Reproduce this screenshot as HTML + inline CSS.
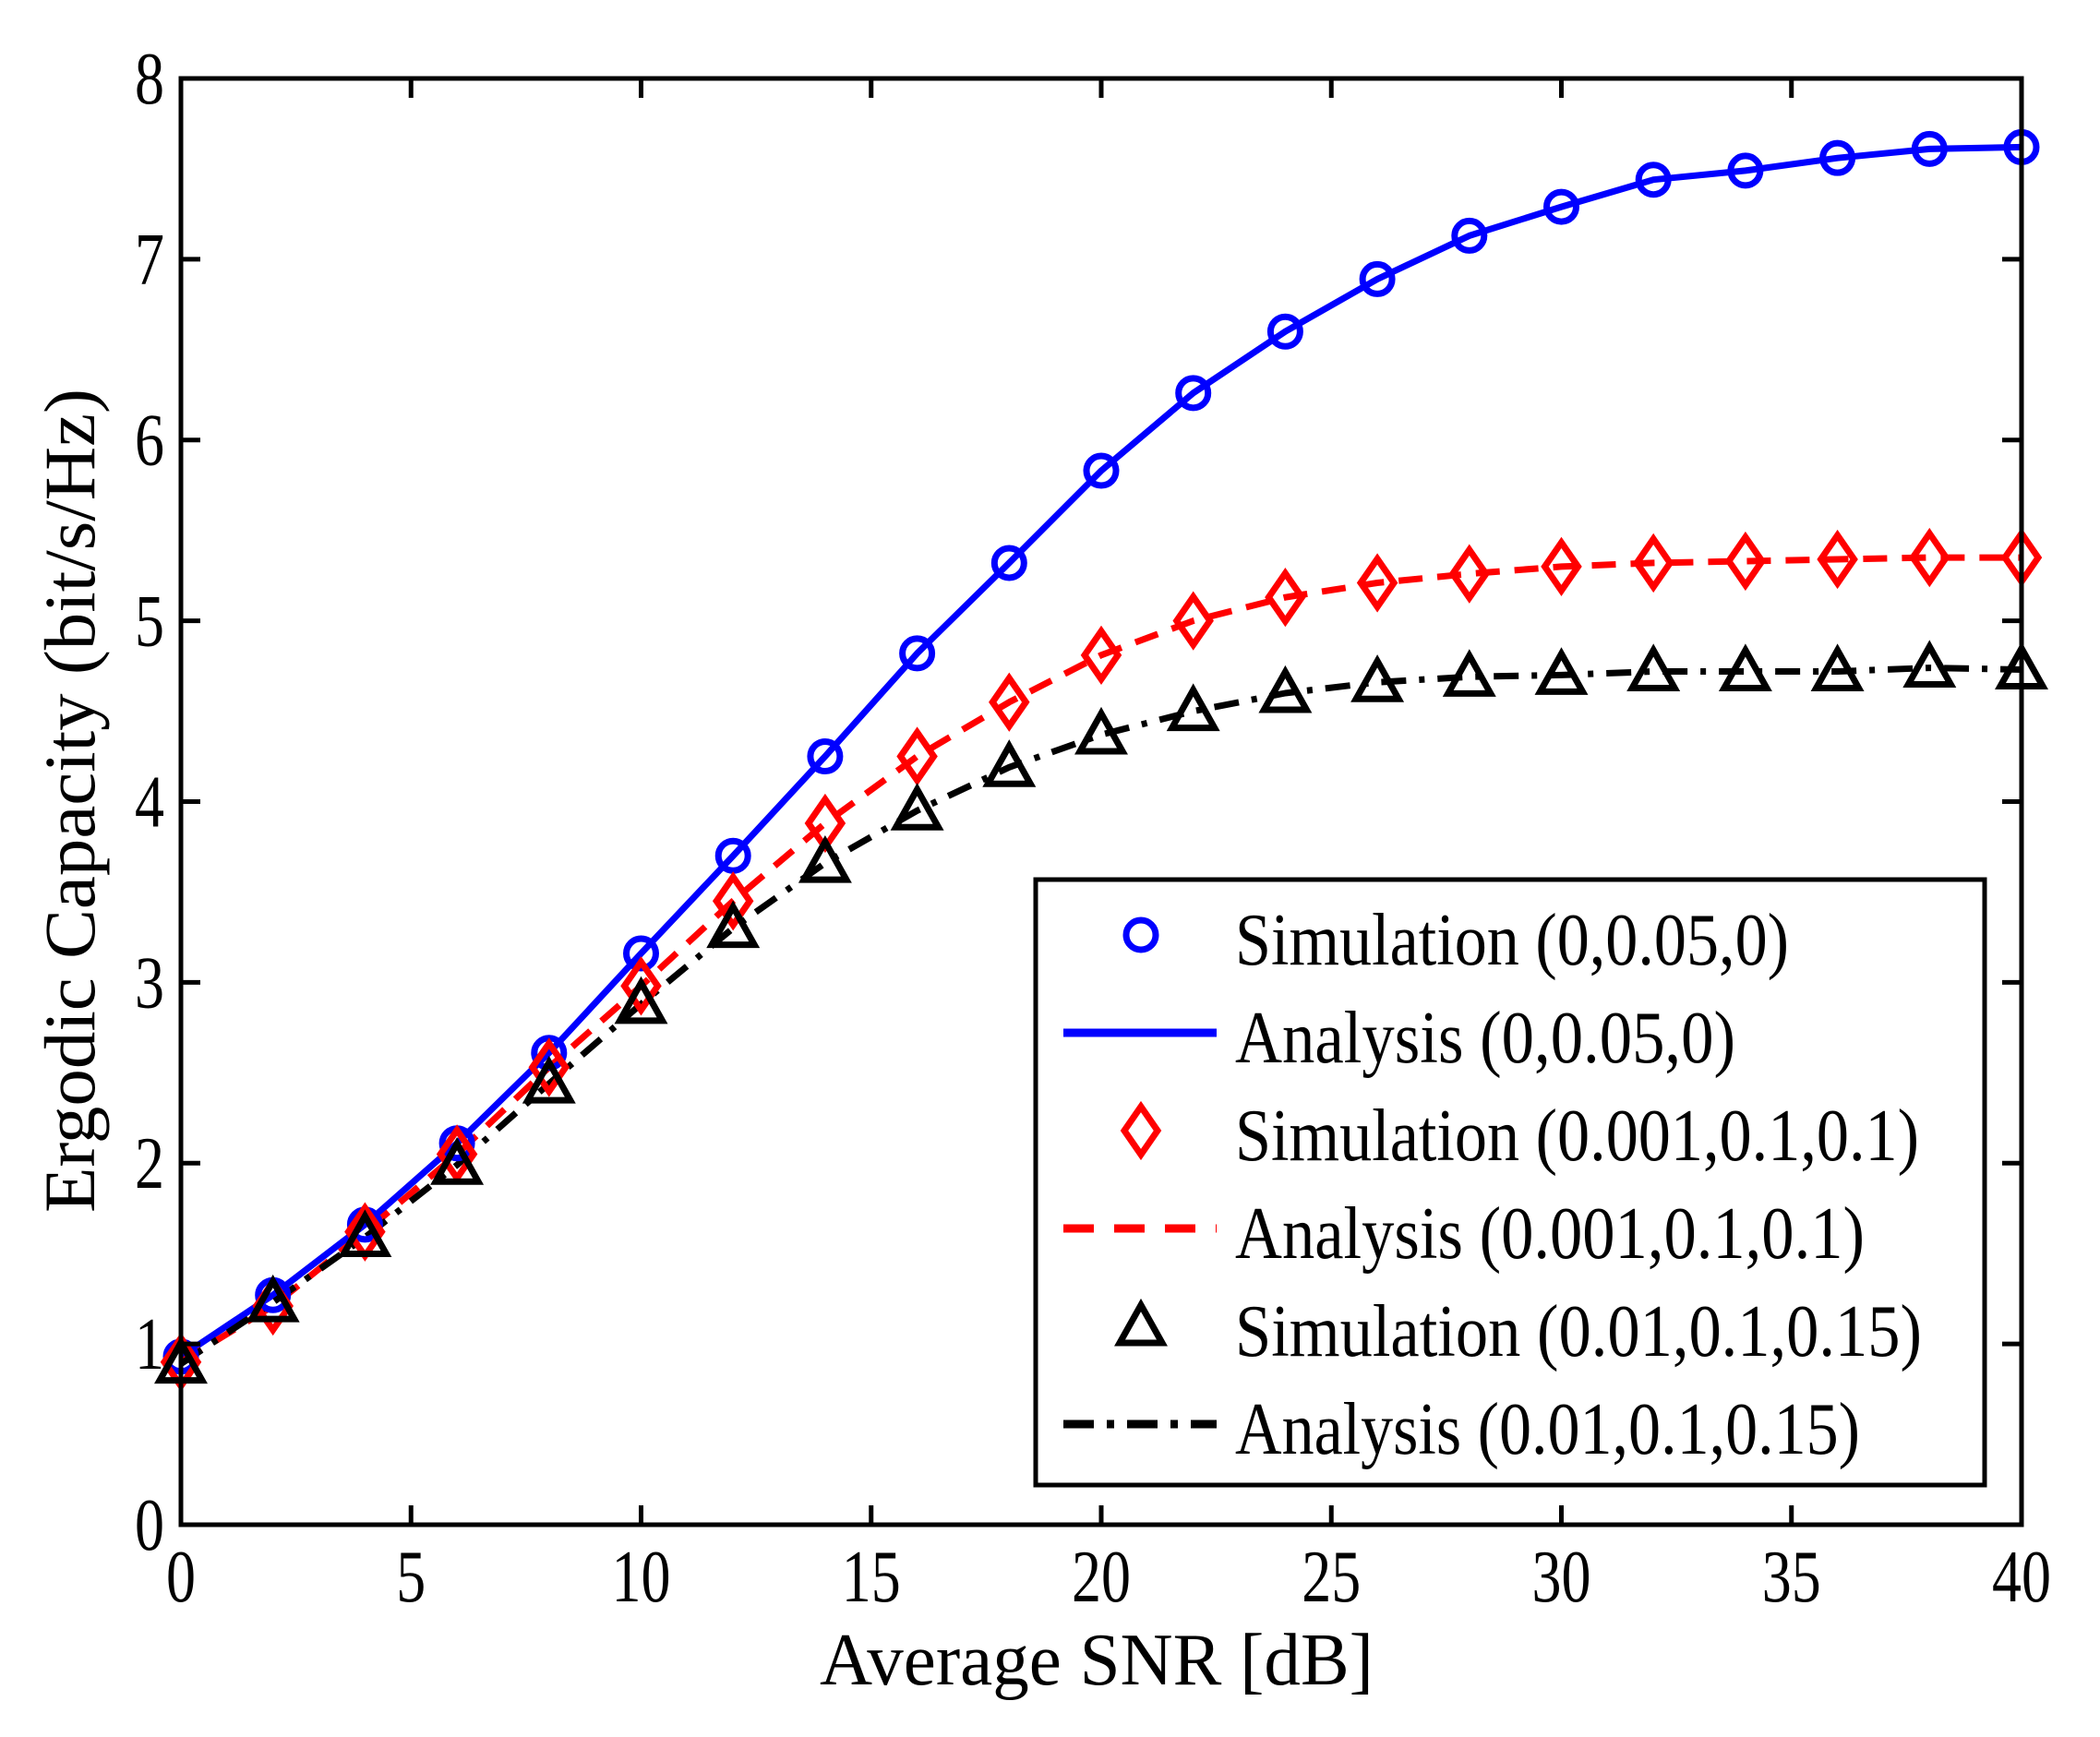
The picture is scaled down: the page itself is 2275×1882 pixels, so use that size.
<!DOCTYPE html>
<html><head><meta charset="utf-8"><style>
html,body{margin:0;padding:0;background:#fff;}
svg{display:block;}
text{font-family:"Liberation Serif",serif;fill:#000;}
</style></head><body>
<svg id="chart" width="2275" height="1882" viewBox="0 0 2275 1882" xmlns="http://www.w3.org/2000/svg">
<rect x="0" y="0" width="2275" height="1882" fill="#fff"/>
<g id="marks"></g>
<g id="axes"></g>
<g id="legend"></g>
</svg>
<script>
const snr = [0,2,4,6,8,10,12,14,16,18,20,22,24,26,28,30,32,34,36,38,40];
const blueVals = [0.93,1.27,1.66,2.11,2.61,3.16,3.70,4.25,4.82,5.32,5.83,6.26,6.60,6.89,7.13,7.29,7.44,7.49,7.56,7.61,7.62];
const redVals = [0.90,1.21,1.62,2.05,2.53,2.98,3.45,3.88,4.25,4.55,4.81,5.00,5.13,5.21,5.26,5.30,5.32,5.33,5.34,5.35,5.35];
const blackVals = [0.89,1.23,1.59,1.99,2.44,2.88,3.30,3.66,3.95,4.19,4.37,4.50,4.60,4.66,4.69,4.70,4.72,4.72,4.72,4.74,4.73];
const xTicks = [0,5,10,15,20,25,30,35,40];
const yTicks = [0,1,2,3,4,5,6,7,8];
const legendLabels = ["Simulation (0,0.05,0)","Analysis (0,0.05,0)","Simulation (0.001,0.1,0.1)","Analysis (0.001,0.1,0.1)","Simulation (0.01,0.1,0.15)","Analysis (0.01,0.1,0.15)"];

const NS="http://www.w3.org/2000/svg";
const L=196,R=2190,T=85,B=1652;
const xs=v=>L+(v-0)/(40-0)*(R-L);
const ys=v=>B-(v-0)/(8-0)*(B-T);
function mk(tag,attrs,parent){const e=document.createElementNS(NS,tag);for(const k in attrs)e.setAttribute(k,attrs[k]);parent.appendChild(e);return e;}
const marks=document.getElementById('marks'),axes=document.getElementById('axes'),legend=document.getElementById('legend');

function drawMarker(kind,cx,cy,parent,name){
  let e;
  if(kind==='circle'){e=mk('circle',{cx:cx,cy:cy,r:16,fill:'none',stroke:'#0000ff','stroke-width':7},parent);}
  else if(kind==='diamond'){e=mk('polygon',{points:`${cx},${cy-26} ${cx+18},${cy} ${cx},${cy+26} ${cx-18},${cy}`,fill:'none',stroke:'#ff0000','stroke-width':7},parent);}
  else {e=mk('polygon',{points:`${cx},${cy-23} ${cx+23},${cy+18} ${cx-23},${cy+18}`,fill:'none',stroke:'#000','stroke-width':7,'stroke-linejoin':'miter'},parent);}
  
  
}
const series=[
  {vals:blueVals,color:'#0000ff',dash:'none',marker:'circle',key:'blue'},
  {vals:redVals,color:'#ff0000',dash:'26 16',marker:'diamond',key:'red'},
  {vals:blackVals,color:'#000000',dash:'27 14 6 14',marker:'triangle',key:'black'}
];
series.forEach(s=>{
  const d=s.vals.map((v,i)=>(i?'L':'M')+xs(snr[i]).toFixed(1)+','+ys(v).toFixed(1)).join(' ');
  const p=mk('path',{d:d,fill:'none',stroke:s.color,'stroke-width':7,'stroke-dasharray':s.dash,'stroke-linejoin':'round'},marks);
  
  
});
series.forEach(s=>{
  s.vals.forEach((v,i)=>drawMarker(s.marker,xs(snr[i]),ys(v),marks,s.key+'-simulation-marker'));
});

const box=mk('rect',{x:L,y:T,width:R-L,height:B-T,fill:'none',stroke:'#000','stroke-width':5},axes);


xTicks.forEach(t=>{
  const x=xs(t);
  mk('line',{x1:x,y1:B,x2:x,y2:B-21,stroke:'#000','stroke-width':5},axes);
  mk('line',{x1:x,y1:T,x2:x,y2:T+21,stroke:'#000','stroke-width':5},axes);
  const tx=mk('text',{x:x,y:1735,'font-size':80,'text-anchor':'middle',transform:`translate(${x},0) scale(0.8,1) translate(${-x},0)`},axes);
  tx.textContent=t;
  
  
});
yTicks.forEach(t=>{
  const y=ys(t);
  mk('line',{x1:L,y1:y,x2:L+21,y2:y,stroke:'#000','stroke-width':5},axes);
  mk('line',{x1:R,y1:y,x2:R-21,y2:y,stroke:'#000','stroke-width':5},axes);
  const tx=mk('text',{x:178,y:y+27,'font-size':80,'text-anchor':'end',transform:`translate(178,0) scale(0.8,1) translate(-178,0)`},axes);
  tx.textContent=t;
  
  
});
const xt=mk('text',{x:888,y:1825,'font-size':80,textLength:600,lengthAdjust:'spacingAndGlyphs'},axes);
xt.textContent='Average  SNR  [dB]';


const yt=mk('text',{x:0,y:0,'font-size':78,textLength:893,lengthAdjust:'spacingAndGlyphs',transform:'translate(102,1314) rotate(-90)'},axes);
yt.textContent='Ergodic Capacity (bit/s/Hz)';



const lb=mk('rect',{x:1122,y:953,width:1028,height:656,fill:'#fff',stroke:'#000','stroke-width':5},legend);


const rowY=[1013,1119,1225,1331,1437,1543];
const textW=[600,542,741,682,744,677];
legendLabels.forEach((lab,i)=>{
  const g=mk('g',{},legend);
  
  
  const s=series[Math.floor(i/2)];
  if(i%2===0){drawMarker(s.marker,1236,rowY[i],g,'legend-'+s.marker+'-marker');}
  else{
    const ln=mk('line',{x1:1152,y1:rowY[i],x2:1318,y2:rowY[i],stroke:s.color,'stroke-width':9,'stroke-dasharray':s.dash==='none'?'none':(s.key==='red'?'33 22':'33 14 8 14')},g);
    
    
  }
  const t=mk('text',{x:1338,y:rowY[i]+32,'font-size':80,textLength:textW[i],lengthAdjust:'spacingAndGlyphs'},g);
  t.textContent=lab;
  
  
});
</script>
</body></html>
